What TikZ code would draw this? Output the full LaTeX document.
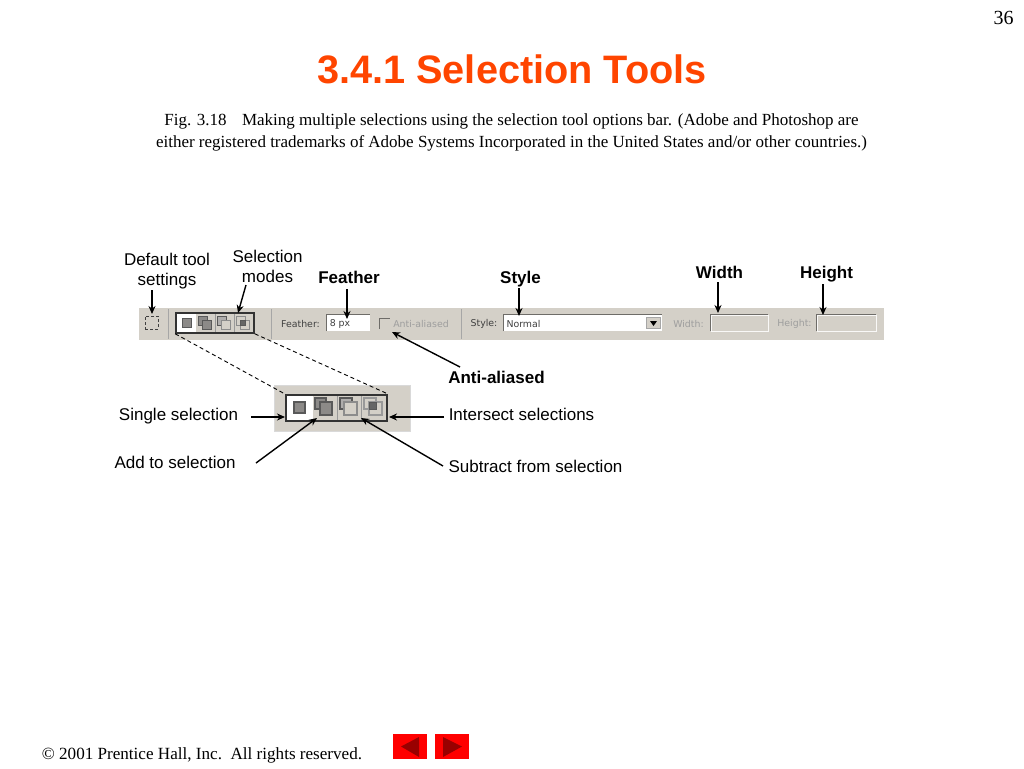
\documentclass[tikz,border=0pt]{standalone}
\usepackage{fontspec}
\setmainfont{Liberation Serif}
\setsansfont{Liberation Sans}
\newfontfamily\barfont{DejaVu Sans}
\usetikzlibrary{arrows.meta}
\definecolor{barface}{HTML}{D4D0C8}
\definecolor{bardark}{HTML}{6E6C68}
\definecolor{iconfill}{HTML}{8C8A88}
\definecolor{titleorange}{HTML}{FF4500}
\definecolor{navdark}{HTML}{990000}
\tikzstyle{callout}=[font=\sffamily\fontsize{17}{20}\selectfont,
	align=center,
	inner sep=0pt]
\tikzstyle{calloutbold}=[callout,
	font=\sffamily\bfseries\fontsize{17}{20}\selectfont]
\tikzstyle{pointer}=[-{Stealth[length=8pt,width=7pt]},
	line width=1.4pt]
\tikzstyle{guide}=[dashed,
	line width=0.9pt,
	dash pattern=on 4pt off 3pt]
\tikzstyle{bartext}=[font=\barfont\fontsize{9.4}{11}\selectfont,
	inner sep=0pt,
	text=black!75]
\tikzstyle{bargrey}=[bartext,
	text=black!38]
\tikzstyle{field}=[rectangle,
	inner sep=0pt,
	fill=white]
\tikzstyle{bevel}=[line width=1.2pt,
	draw=bardark]
\tikzstyle{separator}=[line width=1pt,
	draw=black!35]
\tikzstyle{modebox}=[rectangle,
	inner sep=0pt,
	draw=black!80,
	line width=1.6pt]
\tikzstyle{icon}=[rectangle,
	inner sep=0pt,
	draw=black!65,
	line width=1pt]
\tikzstyle{navbutton}=[rectangle,
	inner sep=0pt,
	minimum width=34pt,
	minimum height=25pt,
	fill=red]
\begin{document}
\begin{tikzpicture}[x=1pt,y=-1pt]
	\useasboundingbox (0,0) rectangle (1024,768);
	\fill[white] (0,0) rectangle (1024,768);

	% heading
	\node (pagenum) at (1003.5,18) [inner sep=0pt,font=\fontsize{20}{24}\selectfont]{36};
	\node (title) at (512,69) [inner sep=0pt,text=titleorange,font=\sffamily\bfseries\fontsize{39.7}{46}\selectfont]{3.4.1 Selection Tools};
	\node (caption) at (511.5,132.5) [inner sep=0pt,align=center,font=\fontsize{17}{22}\selectfont]{Fig. 3.18\hspace{0.9em}Making multiple selections using the selection tool options bar. (Adobe and Photoshop are\\either registered trademarks of Adobe Systems Incorporated in the United States and/or other countries.)};

	% options bar
	\node (bar) at (511.5,324) [rectangle,inner sep=0pt,fill=barface,minimum width=745pt,minimum height=32pt]{};
	\node (marquee) at (151.5,322.5) [rectangle,inner sep=0pt,draw=black!75,densely dashed,line width=1pt,minimum width=13pt,minimum height=13pt]{};
	\draw[separator] (168,309) -- (168,339);
	\draw[separator] (271,309) -- (271,339);
	\draw[separator] (461,309) -- (461,339);

	\fill[white] (177,314) rectangle (196,332);
	\node (modes) at (215,323) [modebox,minimum width=78pt,minimum height=20pt]{};
	\draw[black!40,line width=0.8pt] (215,314) -- (215,332);
	\draw[black!40,line width=0.8pt] (234,314) -- (234,332);
	\node (sq1) at (187,323) [icon,fill=iconfill,minimum width=9pt,minimum height=9pt]{};
	\node (sq2a) at (203,321) [icon,fill=iconfill,minimum width=9pt,minimum height=9pt]{};
	\node (sq2b) at (207,325) [icon,fill=iconfill,minimum width=9pt,minimum height=9pt]{};
	\node (sq3a) at (222,321) [icon,fill=iconfill!70,minimum width=9pt,minimum height=9pt]{};
	\node (sq3b) at (226,325) [icon,fill=barface,draw=black!45,minimum width=9pt,minimum height=9pt]{};
	\node (sq4a) at (241,321) [icon,draw=black!45,minimum width=9pt,minimum height=9pt]{};
	\node (sq4b) at (245,325) [icon,draw=black!45,minimum width=9pt,minimum height=9pt]{};
	\node (sq4c) at (243,323) [icon,fill=black!60,minimum width=5pt,minimum height=5pt]{};

	\node (feathertext) at (300.5,324) [bartext]{Feather:};
	\node (featherbox) at (348.5,323) [field,minimum width=43pt,minimum height=16pt]{};
	\draw[bevel] (featherbox.south west) -- (featherbox.north west) -- (featherbox.north east);
	\node (feathervalue) at (340,324) [bartext]{8 px};
	\node (antibox) at (385,324) [field,fill=barface,minimum width=10pt,minimum height=10pt]{};
	\draw[bevel] (antibox.south west) -- (antibox.north west) -- (antibox.north east);
	\node (antitext) at (421,324) [bargrey]{Anti-aliased};
	\node (styletext) at (484,324) [bartext]{Style:};
	\node (stylebox) at (583,323) [field,minimum width=158pt,minimum height=16pt]{};
	\draw[bevel] (stylebox.south west) -- (stylebox.north west) -- (stylebox.north east);
	\node (stylevalue) at (523.5,324) [bartext]{Normal};
	\node (dropbutton) at (653.5,323) [rectangle,inner sep=0pt,fill=barface,draw=black!35,minimum width=14pt,minimum height=11pt]{};
	\fill[black] (650,321) -- (657,321) -- (653.5,326) -- cycle;
	\node (widthtext) at (688.5,324) [bargrey]{Width:};
	\node (widthbox) at (739.5,323) [field,fill=barface,draw=white!85!barface,minimum width=57pt,minimum height=16pt]{};
	\draw[bevel] (widthbox.south west) -- (widthbox.north west) -- (widthbox.north east);
	\node (heighttext) at (794.5,324) [bargrey]{Height:};
	\node (heightbox) at (846.5,323) [field,fill=barface,draw=white!85!barface,minimum width=59pt,minimum height=16pt]{};
	\draw[bevel] (heightbox.south west) -- (heightbox.north west) -- (heightbox.north east);

	% enlarged modes
	\node (panel) at (342,408) [rectangle,inner sep=0pt,fill=barface,draw=black!15,minimum width=136pt,minimum height=46pt]{};
	\fill[white] (287,396) rectangle (313,420);
	\node (bigmodes) at (336.5,408) [modebox,line width=2pt,minimum width=101pt,minimum height=26pt]{};
	\draw[black!40,line width=0.8pt] (337,396) -- (337,420);
	\draw[black!40,line width=0.8pt] (361,396) -- (361,420);
	\node (big1) at (299.5,407.5) [icon,fill=iconfill,line width=1.4pt,minimum width=11pt,minimum height=11pt]{};
	\node (big2a) at (320.5,403.5) [icon,fill=iconfill,line width=1.4pt,minimum width=11pt,minimum height=11pt]{};
	\node (big2b) at (326,408.5) [icon,fill=iconfill,line width=1.4pt,minimum width=12pt,minimum height=13pt]{};
	\node (big3a) at (346,403.5) [icon,fill=iconfill!70,line width=1.4pt,minimum width=12pt,minimum height=11pt]{};
	\node (big3b) at (350.5,408.5) [icon,fill=barface,draw=black!45,line width=1.4pt,minimum width=13pt,minimum height=13pt]{};
	\node (big4a) at (370,403.5) [icon,draw=black!40,line width=1.4pt,minimum width=12pt,minimum height=11pt]{};
	\node (big4b) at (375.5,408.5) [icon,draw=black!40,line width=1.4pt,minimum width=13pt,minimum height=13pt]{};
	\node (big4c) at (372.5,405.5) [icon,fill=black!60,minimum width=7pt,minimum height=7pt]{};

	% labels
	\node (deftext) at (167,271.5) [callout]{Default tool\\settings};
	\node (modetext) at (267.5,266.5) [callout]{Selection\\modes};
	\node (feather) at (349,277) [calloutbold]{Feather};
	\node (style) at (520.5,279) [calloutbold]{Style};
	\node (width) at (719.5,272.5) [calloutbold]{Width};
	\node (height) at (826.5,274.5) [calloutbold]{Height};
	\node (antialiased) at (496.5,377) [calloutbold]{Anti-aliased};
	\node (single) at (178.5,416) [callout]{Single selection};
	\node (intersect) at (521.5,414.5) [callout]{Intersect selections};
	\node (addto) at (175,462.5) [callout]{Add to selection};
	\node (subtract) at (535.5,466.5) [callout]{Subtract from selection};

	% free ends
	\coordinate (deftail) at (152,290);
	\coordinate (defhead) at (152,314);
	\coordinate (modetail) at (246,285);
	\coordinate (modehead) at (238,313);
	\coordinate (feathertail) at (347,289);
	\coordinate (featherhead) at (347,319);
	\coordinate (styletail) at (519,288);
	\coordinate (stylehead) at (519,316);
	\coordinate (widthtail) at (718,282);
	\coordinate (widthhead) at (718,313);
	\coordinate (heighttail) at (823,284);
	\coordinate (heighthead) at (823,315);
	\coordinate (antitail) at (460,367);
	\coordinate (antihead) at (392,332);
	\coordinate (singletail) at (251,417);
	\coordinate (singlehead) at (285,417);
	\coordinate (intersecttail) at (444,417);
	\coordinate (intersecthead) at (389,417);
	\coordinate (addtail) at (256,463);
	\coordinate (addhead) at (317,418);
	\coordinate (subtail) at (443,466);
	\coordinate (subhead) at (361,418);

	\draw[pointer] (deftail) -- (defhead);
	\draw[pointer] (modetail) -- (modehead);
	\draw[pointer] (feathertail) -- (featherhead);
	\draw[pointer] (styletail) -- (stylehead);
	\draw[pointer] (widthtail) -- (widthhead);
	\draw[pointer] (heighttail) -- (heighthead);
	\draw[pointer] (antitail) -- (antihead);
	\draw[pointer] (singletail) -- (singlehead);
	\draw[pointer] (intersecttail) -- (intersecthead);
	\draw[pointer] (addtail) -- (addhead);
	\draw[pointer] (subtail) -- (subhead);
	\draw[guide] (modes.south west) -- (bigmodes.north west);
	\draw[guide] (modes.south east) -- (bigmodes.north east);

	% footer
	\node (footer) at (202,755) [inner sep=0pt,font=\fontsize{17.1}{20}\selectfont]{\textcopyright\ 2001 Prentice Hall, Inc.\ \ All rights reserved.};
	\node (navback) at (409.5,746.5) [navbutton]{};
	\node (navnext) at (452,746.5) [navbutton]{};
	\fill[navdark] (401,746.5) -- (419,737) -- (419,757) -- cycle;
	\fill[navdark] (443,737) -- (462,746.5) -- (443,757) -- cycle;
\end{tikzpicture}
\end{document}
